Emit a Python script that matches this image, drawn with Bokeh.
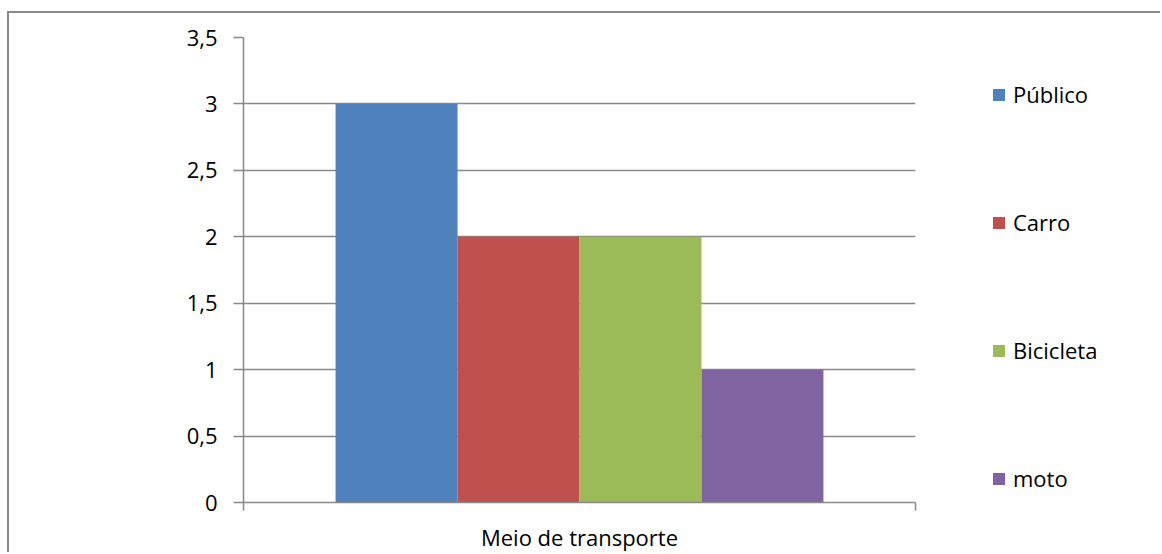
from bokeh.plotting import figure
from bokeh.layouts import row
from bokeh.models import (ColumnDataSource, Range1d, FixedTicker, Legend, LegendItem)
from bokeh.transform import dodge
from bokeh.embed import file_html
from bokeh.resources import INLINE

category = "Meio de transporte"
series = ["Público", "Carro", "Bicicleta", "moto"]
values = [3, 2, 2, 1]
colors = ["#4F81BD", "#C0504D", "#9BBB59", "#8064A2"]
y_ticks = [0, 0.5, 1, 1.5, 2, 2.5, 3, 3.5]
y_tick_labels = ["0", "0,5", "1", "1,5", "2", "2,5", "3", "3,5"]

FONT = "Open Sans"
FS = "22px"
GRAY = "#898989"

# one category spanning [0, 1]; its centre is 0.5
cat_index = 0
cat_center = cat_index + 0.5

OX, OY = 9, 13      # canvas origin after the chart border
SPLIT = 960         # where the legend area starts
W, H = 1162, 554
TOP, BOTTOM = 37 - OY, 48

p = figure(width=SPLIT - OX, height=H - OY, output_backend="svg", toolbar_location=None,
           x_range=Range1d(0, 1), y_range=Range1d(0, 3.5),
           margin=(OY - 2, 0, 0, OX - 2),
           styles={"border-left": "2px solid " + GRAY, "border-top": "2px solid " + GRAY},
           min_border_left=243 - OX, min_border_right=SPLIT - 915, min_border_top=TOP,
           min_border_bottom=BOTTOM)
p.outline_line_color = None

bar_w = 0.1815
renderers = []
for i, (s, v, c) in enumerate(zip(series, values, colors)):
    src = ColumnDataSource(dict(x=[cat_center], top=[v]))
    r = p.vbar(x=dodge("x", (i - 1.5) * bar_w), top="top", width=bar_w,
               source=src, fill_color=c, line_color=None)
    renderers.append(r)

# y axis
ya = p.yaxis[0]
ya.ticker = FixedTicker(ticks=y_ticks)
ya.major_label_overrides = {t: l for t, l in zip(y_ticks, y_tick_labels)}
ya.minor_tick_line_color = None
ya.major_tick_in = 0
ya.major_tick_out = 10
ya.axis_line_color = GRAY
ya.axis_line_width = 1.5
ya.major_tick_line_color = GRAY
ya.major_tick_line_width = 1.5
ya.major_label_text_font = FONT
ya.major_label_text_font_size = FS
ya.major_label_text_color = "black"
ya.major_label_standoff = 16

# x axis with ticks at the category edges
xa = p.xaxis[0]
xa.ticker = FixedTicker(ticks=[cat_index, cat_index + 1])
xa.major_label_text_font_size = "0px"
xa.minor_tick_line_color = None
xa.major_tick_in = 0
xa.major_tick_out = 8
xa.axis_line_color = GRAY
xa.axis_line_width = 1.5
xa.major_tick_line_color = GRAY
xa.major_tick_line_width = 1.5
xa.axis_label = category
xa.axis_label_text_font = FONT
xa.axis_label_text_font_size = FS
xa.axis_label_text_font_style = "normal"
xa.axis_label_text_color = "black"
xa.axis_label_standoff = 11

p.xgrid.visible = False
p.ygrid[0].ticker = FixedTicker(ticks=y_ticks)
p.ygrid.grid_line_color = GRAY
p.ygrid.grid_line_width = 1.5
p.ygrid.level = "underlay"

# legend area (same series and colours)
lg = figure(width=W - SPLIT, height=H - OY, output_backend="svg", toolbar_location=None,
            x_range=Range1d(0, 1), y_range=Range1d(0, 1),
            margin=(OY - 2, 0, 0, 0),
            styles={"border-top": "2px solid " + GRAY},
            min_border_left=0, min_border_right=0,
            min_border_top=TOP, min_border_bottom=BOTTOM)
lg.axis.visible = False
lg.grid.visible = False
lg.outline_line_color = None
lg_renderers = []
for s, c in zip(series, colors):
    src = ColumnDataSource(dict(x=[cat_center], top=[0]))
    lg_renderers.append(lg.vbar(x="x", top="top", width=0.0, source=src,
                                fill_color=c, line_color=None))

legend = Legend(items=[LegendItem(label=s, renderers=[r]) for s, r in zip(series, lg_renderers)],
                location=(993 - SPLIT, 9), orientation="vertical",
                glyph_width=15, glyph_height=15, label_height=30, spacing=98,
                label_standoff=7, padding=0, margin=0,
                border_line_color=None, background_fill_alpha=0,
                label_text_font=FONT, label_text_font_size=FS, label_text_color="black")
lg.add_layout(legend, "center")

layout = row(p, lg, spacing=0)
open("out.html", "w").write(file_html(layout, INLINE))
